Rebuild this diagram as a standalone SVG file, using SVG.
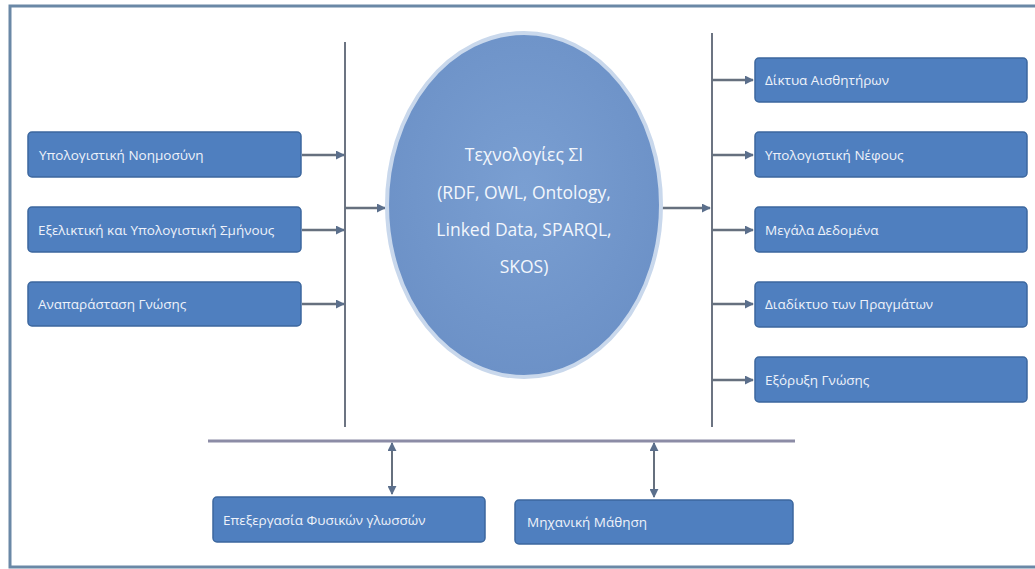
<svg xmlns="http://www.w3.org/2000/svg" width="1035" height="569" viewBox="0 0 1035 569">
<defs>
<marker id="ah" viewBox="0 0 10 10" refX="9" refY="5" markerWidth="9" markerHeight="9" markerUnits="userSpaceOnUse" orient="auto-start-reverse">
<path d="M0,0 L10,5 L0,10 Z" fill="#5B6F8C"/>
</marker>
<radialGradient id="eg" cx="50%" cy="45%" r="60%">
<stop offset="0" stop-color="#7A9FD2"/>
<stop offset="1" stop-color="#6B90C6"/>
</radialGradient>
</defs>
<style>
.box{fill:#4F7FBF;stroke:#3C679E;stroke-width:1.5}
.lbl{font-family:"Open Sans","Liberation Sans",sans-serif;font-size:13.5px;fill:#EEF2FA}
.ctr{font-family:"Open Sans","Liberation Sans",sans-serif;font-size:17.5px;fill:#F2F6FC;text-anchor:middle}
.ln{stroke:#6C7482;stroke-width:2;fill:none}
.ar{stroke:#66707E;stroke-width:2.5;fill:none;marker-end:url(#ah)}
.da{stroke:#66707E;stroke-width:2;fill:none;marker-start:url(#ah);marker-end:url(#ah)}
</style>
<rect x="0" y="0" width="1035" height="569" fill="#FFFFFF"/>
<rect x="10" y="6" width="1040" height="561" fill="none" stroke="#6A88A6" stroke-width="3"/>

<g id="connectors">
<line class="ln" x1="345" y1="42" x2="345" y2="427"/>
<line class="ln" x1="712" y1="33" x2="712" y2="427"/>
<line x1="208" y1="441" x2="795" y2="441" stroke="#8C8CA6" stroke-width="3"/>
<line class="ar" x1="302" y1="155" x2="344" y2="155"/>
<line class="ar" x1="302" y1="230" x2="344" y2="230"/>
<line class="ar" x1="302" y1="304" x2="344" y2="304"/>
<line class="ar" x1="345" y1="208" x2="385" y2="208"/>
<line class="ar" x1="660" y1="208" x2="710" y2="208"/>
<line class="ar" x1="712" y1="80" x2="753" y2="80"/>
<line class="ar" x1="712" y1="155" x2="753" y2="155"/>
<line class="ar" x1="712" y1="230" x2="753" y2="230"/>
<line class="ar" x1="712" y1="304" x2="753" y2="304"/>
<line class="ar" x1="712" y1="380" x2="753" y2="380"/>
<line class="da" x1="392" y1="443" x2="392" y2="494"/>
<line class="da" x1="654" y1="443" x2="654" y2="497"/>
</g>

<g id="center">
<ellipse cx="524" cy="205" rx="137" ry="172" fill="url(#eg)" stroke="#C9D8EC" stroke-width="4"/>
<text class="ctr" x="524" y="161">Τεχνολογίες ΣΙ</text>
<text class="ctr" x="524" y="199">(RDF, OWL, Ontology,</text>
<text class="ctr" x="524" y="236">Linked Data, SPARQL,</text>
<text class="ctr" x="524" y="273">SKOS)</text>
</g>

<g id="n-yn">
<rect class="box" x="28" y="132" width="273" height="45" rx="4"/>
<text class="lbl" x="39" y="160">Υπολογιστική Νοημοσύνη</text>
</g>
<g id="n-eys">
<rect class="box" x="28" y="207" width="273" height="45" rx="4"/>
<text class="lbl" x="38" y="235">Εξελικτική και Υπολογιστική Σμήνους</text>
</g>
<g id="n-ag">
<rect class="box" x="28" y="282" width="273" height="44" rx="4"/>
<text class="lbl" x="38" y="309">Αναπαράσταση Γνώσης</text>
</g>

<g id="n-da">
<rect class="box" x="755" y="58" width="272" height="44" rx="4"/>
<text class="lbl" x="765" y="85">Δίκτυα Αισθητήρων</text>
</g>
<g id="n-yneph">
<rect class="box" x="755" y="132" width="272" height="45" rx="4"/>
<text class="lbl" x="765" y="160">Υπολογιστική Νέφους</text>
</g>
<g id="n-md">
<rect class="box" x="755" y="207" width="272" height="45" rx="4"/>
<text class="lbl" x="765" y="235">Μεγάλα Δεδομένα</text>
</g>
<g id="n-dp">
<rect class="box" x="755" y="282" width="272" height="45" rx="4"/>
<text class="lbl" x="765" y="309">Διαδίκτυο των Πραγμάτων</text>
</g>
<g id="n-eg">
<rect class="box" x="755" y="357" width="272" height="45" rx="4"/>
<text class="lbl" x="765" y="385">Εξόρυξη Γνώσης</text>
</g>

<g id="n-efg">
<rect class="box" x="213" y="497" width="272" height="45" rx="4"/>
<text class="lbl" x="223" y="525">Επεξεργασία Φυσικών γλωσσών</text>
</g>
<g id="n-mm">
<rect class="box" x="515" y="500" width="278" height="44" rx="4"/>
<text class="lbl" x="527" y="527">Μηχανική Μάθηση</text>
</g>
</svg>
